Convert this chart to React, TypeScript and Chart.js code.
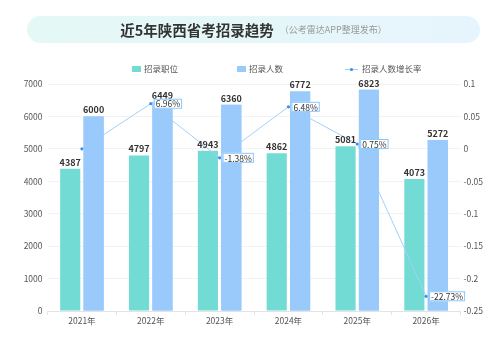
import React, { useEffect, useRef } from "react";
import { Chart, registerables } from "chart.js";

Chart.register(...registerables);

const categories = ["2021年", "2022年", "2023年", "2024年", "2025年", "2026年"];
const positions = [4387, 4797, 4943, 4862, 5081, 4073];
const recruits = [6000, 6449, 6360, 6772, 6823, 5272];
const growth = [0, 0.0696, -0.0138, 0.0648, 0.0075, -0.2273];
const seriesNames = ["招录职位", "招录人数", "招录人数增长率"];
const leftTicks = { min: 0, max: 7000, step: 1000 };
const rightTicks = { min: -0.25, max: 0.1, step: 0.05 };

const FONT = '"Noto Sans CJK SC", "Noto Sans", sans-serif';
const GREEN = "#72dbd4";
const BLUE = "#99cafb";
const LINE = "#a3d0fa";
const DOT = "#3d8fe8";

const labelsPlugin = {
  id: "valueLabels",
  afterDatasetsDraw(chart: any) {
    const ctx = chart.ctx;
    const area = chart.chartArea;
    // blue bars sit above the growth line, green bars below it
    ctx.save();
    ctx.beginPath();
    ctx.rect(area.left, area.top, area.right - area.left, area.bottom - area.top);
    ctx.clip();
    chart.getDatasetMeta(1).data.forEach((el: any) => el.draw(ctx));
    ctx.restore();

    ctx.save();
    [0, 1].forEach((di) => {
      const meta = chart.getDatasetMeta(di);
      const data = chart.data.datasets[di].data;
      ctx.font = `bold 9px ${FONT}`;
      ctx.fillStyle = "#333";
      ctx.textAlign = "center";
      ctx.textBaseline = "bottom";
      meta.data.forEach((el: any, i: number) => {
        ctx.fillText(String(data[i]), el.x, el.y - 2);
      });
    });
    const lm = chart.getDatasetMeta(2);
    const ld = chart.data.datasets[2].data;
    ctx.font = `8.5px ${FONT}`;
    ctx.textAlign = "left";
    ctx.textBaseline = "middle";
    lm.data.forEach((el: any, i: number) => {
      if (i === 0) return;
      const t = (ld[i] * 100).toFixed(2) + "%";
      const w = ctx.measureText(t).width + 4;
      const x = el.x + 3;
      const y = el.y - 5;
      ctx.fillStyle = "#fff";
      ctx.fillRect(x, y, w, 10);
      ctx.strokeStyle = "#8cc6fb";
      ctx.lineWidth = 1;
      ctx.strokeRect(x + 0.5, y + 0.5, w - 1, 9);
      ctx.fillStyle = "#333";
      ctx.fillText(t, x + 2, el.y + 0.5);
    });
    ctx.restore();
  },
};

const legendPlugin = {
  id: "customLegend",
  afterDraw(chart: any) {
    const ctx = chart.ctx;
    ctx.save();
    ctx.font = `8.5px ${FONT}`;
    ctx.textBaseline = "middle";
    ctx.textAlign = "left";
    const y = 69;
    ctx.fillStyle = GREEN;
    ctx.fillRect(132, y - 3, 9, 6);
    ctx.fillStyle = "#555";
    ctx.fillText(seriesNames[0], 144, y);
    ctx.fillStyle = BLUE;
    ctx.fillRect(237, y - 3, 9, 6);
    ctx.fillStyle = "#555";
    ctx.fillText(seriesNames[1], 249, y);
    ctx.strokeStyle = LINE;
    ctx.lineWidth = 1;
    ctx.beginPath();
    ctx.moveTo(345, y + 0.5);
    ctx.lineTo(358, y + 0.5);
    ctx.stroke();
    ctx.fillStyle = DOT;
    ctx.beginPath();
    ctx.arc(351.5, y + 0.5, 1.6, 0, Math.PI * 2);
    ctx.fill();
    ctx.fillStyle = "#555";
    ctx.fillText(seriesNames[2], 362, y);
    ctx.restore();
  },
};

export default function App() {
  const ref = useRef<HTMLCanvasElement>(null);
  useEffect(() => {
    document.body.style.margin = "0";
    if (!ref.current) return;
    const chart = new Chart(ref.current, {
      type: "bar",
      data: {
        labels: categories,
        datasets: [
          {
            type: "bar",
            label: seriesNames[0],
            data: positions,
            backgroundColor: GREEN,
            yAxisID: "y",
            order: 1,
            categoryPercentage: 0.68,
            barPercentage: 0.86,
          } as any,
          {
            type: "bar",
            label: seriesNames[1],
            data: recruits,
            backgroundColor: BLUE,
            yAxisID: "y",
            order: 2,
            categoryPercentage: 0.68,
            barPercentage: 0.86,
          } as any,
          {
            type: "line",
            label: seriesNames[2],
            data: growth,
            yAxisID: "y1",
            borderColor: LINE,
            borderWidth: 1,
            pointRadius: 1.6,
            pointBackgroundColor: DOT,
            pointBorderWidth: 0,
            tension: 0,
            order: 0,
          } as any,
        ],
      },
      options: {
        animation: false,
        responsive: false,
        layout: { padding: { top: 84, left: 0, right: 0, bottom: 0 } },
        plugins: { legend: { display: false }, tooltip: { enabled: false } },
        scales: {
          x: {
            grid: {
              display: true,
              drawOnChartArea: false,
              drawTicks: true,
              tickLength: 4,
              color: "#e3e3e3",
            },
            border: { display: true, color: "#e3e3e3" },
            ticks: { color: "#555", font: { family: FONT, size: 8.5 }, padding: 1 },
            afterFit: (s: any) => {
              s.height = 28;
            },
          },
          y: {
            position: "left",
            min: leftTicks.min,
            max: leftTicks.max,
            ticks: {
              stepSize: leftTicks.step,
              color: "#555",
              font: { family: FONT, size: 8.5 },
              padding: 5,
              callback: (v: any) => String(v),
            },
            grid: { color: "#f2f2f2", drawTicks: false },
            border: { display: false },
            afterFit: (s: any) => {
              s.width = 47.5;
            },
          },
          y1: {
            position: "right",
            min: rightTicks.min,
            max: rightTicks.max,
            ticks: {
              stepSize: rightTicks.step,
              color: "#555",
              font: { family: FONT, size: 8.5 },
              padding: 3,
              callback: (v: any) => String(parseFloat(Number(v).toFixed(2))),
            },
            grid: { drawOnChartArea: false, drawTicks: false },
            border: { display: false },
            afterFit: (s: any) => {
              s.width = 39.5;
            },
          },
        },
      },
      plugins: [labelsPlugin, legendPlugin],
    });
    return () => chart.destroy();
  }, []);

  return (
    <div style={{ position: "relative", width: 500, height: 339, background: "#fff", overflow: "hidden" }}>
      <canvas ref={ref} width={500} height={339} style={{ position: "absolute", left: 0, top: 0 }} />
      <div
        style={{
          position: "absolute",
          left: 27,
          top: 16,
          width: 453,
          height: 27,
          borderRadius: 14,
          background: "linear-gradient(90deg, #e4f8f5, #e6f5fd)",
          display: "flex",
          alignItems: "center",
          justifyContent: "center",
          fontFamily: FONT,
          whiteSpace: "nowrap",
        }}
      >
        <span style={{ fontSize: 14.5, fontWeight: 700, color: "#333" }}>近5年陕西省考招录趋势</span>
        <span style={{ fontSize: 9, color: "#999", marginLeft: 6 }}>（公考雷达APP整理发布）</span>
      </div>
    </div>
  );
}
